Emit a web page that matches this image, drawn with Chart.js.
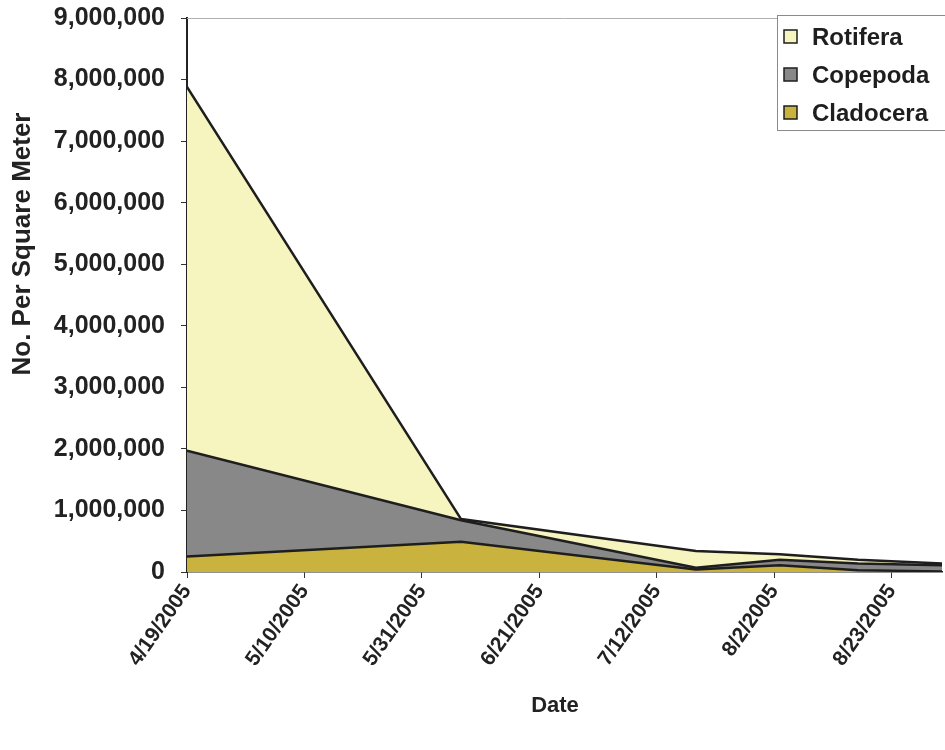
<!DOCTYPE html>
<html>
<head>
<meta charset="utf-8">
<script src="https://cdn.jsdelivr.net/npm/chart.js@4/dist/chart.umd.min.js"></script>
<style>
  html, body { margin: 0; padding: 0; background: #ffffff; }
  #wrap { width: 945px; height: 750px; position: relative; }
</style>
</head>
<body>
<div id="wrap"><canvas id="c" width="945" height="750"></canvas></div>
<script>
// Sampling dates and zooplankton densities (No. per square meter)
const sampleDates = ['2005-04-19', '2005-06-07', '2005-07-19', '2005-08-03', '2005-08-17', '2005-09-01'];
const cladocera = [250000, 490000, 40000, 110000, 30000, 10000];
const copepoda  = [1720000, 350000, 30000, 90000, 110000, 100000];
const rotifera  = [5910000, 20000, 270000, 90000, 60000, 30000];

// Tick labels along the date axis
const tickDates  = ['2005-04-19', '2005-05-10', '2005-05-31', '2005-06-21', '2005-07-12', '2005-08-02', '2005-08-23'];
const tickLabels = ['4/19/2005', '5/10/2005', '5/31/2005', '6/21/2005', '7/12/2005', '8/2/2005', '8/23/2005'];

const FONT = "'Liberation Sans', Arial, Helvetica, sans-serif";
const DAY = 86400000;
const start = Date.UTC(2005, 3, 19);
const dayOf = s => {
  const [y, m, d] = s.split('-').map(Number);
  return Math.round((Date.UTC(y, m - 1, d) - start) / DAY);
};
const sampleDays = sampleDates.map(dayOf);
const tickDays = tickDates.map(dayOf);
const endDay = dayOf('2005-09-01');

const pts = arr => arr.map((v, i) => ({ x: sampleDays[i], y: v }));

const colors = {
  Rotifera: '#f6f4bf',
  Copepoda: '#888888',
  Cladocera: '#c9b23e'
};

// Legend box, axis titles and the faint top frame line
const decorations = {
  id: 'decorations',
  afterDraw(chart) {
    const ctx = chart.ctx;
    const a = chart.chartArea;
    ctx.save();

    // top frame line
    ctx.strokeStyle = '#b0b0b0';
    ctx.lineWidth = 1;
    ctx.beginPath();
    ctx.moveTo(a.left, a.top + 0.5);
    ctx.lineTo(a.right, a.top + 0.5);
    ctx.stroke();

    // y axis title
    ctx.fillStyle = '#222222';
    ctx.font = 'bold 26px ' + FONT;
    ctx.textAlign = 'center';
    ctx.textBaseline = 'middle';
    ctx.translate(23, 244);
    ctx.rotate(-Math.PI / 2);
    ctx.fillText('No. Per Square Meter', 0, 0);
    ctx.setTransform(1, 0, 0, 1, 0, 0);

    // x axis title
    ctx.font = 'bold 22px ' + FONT;
    ctx.fillText('Date', 555, 706);

    // legend
    const lx = 777, ly = 15, lw = 170, lh = 115;
    ctx.fillStyle = '#ffffff';
    ctx.fillRect(lx, ly, lw, lh);
    ctx.strokeStyle = '#8a8a8a';
    ctx.lineWidth = 1;
    ctx.strokeRect(lx + 0.5, ly + 0.5, lw, lh);
    const items = ['Rotifera', 'Copepoda', 'Cladocera'];
    ctx.font = 'bold 24px ' + FONT;
    ctx.textAlign = 'left';
    ctx.textBaseline = 'middle';
    items.forEach((name, i) => {
      const cy = 37 + i * 38;
      ctx.fillStyle = colors[name];
      ctx.fillRect(784, cy - 7, 13, 13);
      ctx.strokeStyle = '#1e1e1e';
      ctx.lineWidth = 1.5;
      ctx.strokeRect(784, cy - 7, 13, 13);
      ctx.fillStyle = '#1e1e1e';
      ctx.fillText(name, 812, cy + 1);
    });
    ctx.restore();
  }
};

const lineStyle = {
  borderColor: '#1e1e1e',
  borderWidth: 2.5,
  pointRadius: 0,
  tension: 0
};

new Chart(document.getElementById('c'), {
  type: 'line',
  data: {
    datasets: [
      Object.assign({ label: 'Cladocera', data: pts(cladocera), backgroundColor: colors.Cladocera, fill: 'origin' }, lineStyle),
      Object.assign({ label: 'Copepoda', data: pts(copepoda), backgroundColor: colors.Copepoda, fill: '-1' }, lineStyle),
      Object.assign({ label: 'Rotifera', data: pts(rotifera), backgroundColor: colors.Rotifera, fill: '-1' }, lineStyle)
    ]
  },
  options: {
    responsive: false,
    animation: false,
    layout: { padding: { top: 18, right: 3, left: 0, bottom: 0 } },
    plugins: { legend: { display: false }, tooltip: { enabled: false } },
    scales: {
      x: {
        type: 'linear',
        min: 0,
        max: endDay,
        afterBuildTicks: axis => { axis.ticks = tickDays.map(v => ({ value: v })); },
        afterFit: scale => { scale.height = 178; scale.paddingLeft = 0; scale.paddingRight = 0; },
        grid: { display: true, drawOnChartArea: false, drawTicks: true, tickLength: 6, color: '#333333' },
        border: { display: true, color: '#222222', width: 1.5 },
        ticks: {
          autoSkip: false,
          minRotation: 55,
          maxRotation: 55,
          padding: 2,
          color: '#222222',
          font: { family: FONT, size: 21, weight: 'bold' },
          callback: v => { const i = tickDays.indexOf(v); return i >= 0 ? tickLabels[i] : ''; }
        }
      },
      y: {
        stacked: true,
        min: 0,
        max: 9000000,
        afterFit: scale => { scale.width = 187; scale.paddingTop = 0; scale.paddingBottom = 0; },
        grid: { display: true, drawOnChartArea: false, drawTicks: true, tickLength: 6, color: '#333333' },
        border: { display: true, color: '#222222', width: 2 },
        ticks: {
          stepSize: 1000000,
          padding: 16,
          color: '#222222',
          font: { family: FONT, size: 25, weight: 'bold' },
          callback: v => v.toLocaleString('en-US')
        }
      }
    }
  },
  plugins: [decorations]
});
</script>
</body>
</html>
